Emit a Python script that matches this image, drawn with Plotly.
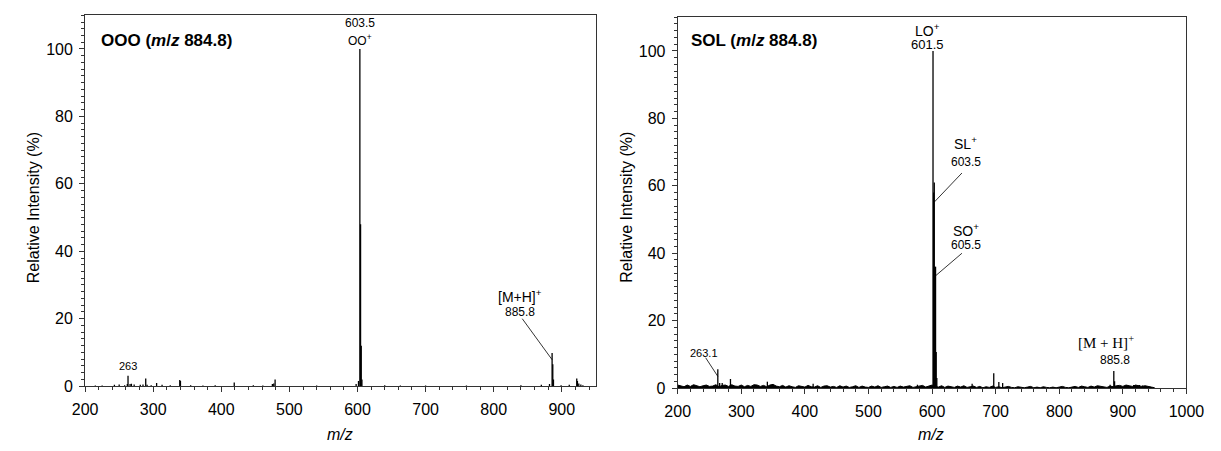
import plotly.graph_objects as go

# ---- OOO product-ion spectrum (precursor m/z 884.8) ----
ooo_mz = [215, 225, 243, 250, 258, 262, 263, 266, 268, 272, 281, 285, 289, 291,
          297, 305, 313, 325, 339, 340, 355, 373, 391, 419, 447, 461, 475, 477,
          479, 540, 598, 601.5, 603.5, 604.5, 605.5, 606.5, 640, 663, 700, 760,
          840, 870, 882, 885.8, 886.8, 887.8, 899, 911, 922, 923, 925, 928, 931]
ooo_int = [0.2, 0.2, 0.4, 0.5, 0.3, 0.6, 3.1, 0.6, 0.7, 0.5, 0.4, 0.5, 2.3, 0.4,
           0.3, 0.9, 0.4, 0.3, 1.8, 1.5, 0.3, 0.2, 0.3, 1.1, 0.3, 0.2, 0.6, 0.8,
           2.0, 0.2, 0.6, 1.5, 100.0, 48.0, 12.0, 2.0, 0.3, 0.2, 0.2, 0.2,
           0.3, 0.4, 0.6, 9.8, 6.5, 2.0, 0.3, 0.4, 2.3, 1.5, 0.8, 0.5, 0.3]

# ---- SOL product-ion spectrum (precursor m/z 884.8) ----
sol_mz = [263.1, 266, 270, 283, 341, 413, 577, 598, 601.5, 602.5, 603.5, 604.5,
          605.5, 606.5, 607.5, 663, 697, 705, 711, 880, 885.8, 887, 917, 926, 931]
sol_int = [5.6, 1.5, 1.5, 2.7, 1.9, 1.3, 1.0, 0.8, 100.0, 58.0, 61.0, 36.0,
           36.0, 10.7, 3.0, 1.3, 4.4, 1.8, 1.5, 1.0, 5.1, 2.0, 0.9, 0.9, 0.8]

# chemical noise floor of the SOL trace, sampled every 5 m/z from 200
sol_noise = [0.9, 0.6, 0.4, 0.9, 0.5, 1.0, 0.6, 0.4, 0.7, 0.9, 0.5, 0.6, 1.0, 0.4,
             0.8, 0.9, 0.5, 1.0, 0.6, 0.5, 0.9, 0.4, 0.8, 0.5, 1.0, 0.9, 0.5, 0.8,
             0.4, 0.9, 1.1,
             0.6, 0.4, 0.8, 0.3, 0.7, 0.4, 0.2, 0.7, 0.5, 0.3, 0.8, 0.4, 0.3, 0.7,
             0.2, 0.6, 0.7, 0.3, 0.5, 0.2, 0.7, 0.3, 0.6, 0.2, 0.4, 0.7, 0.2, 0.6,
             0.3, 0.2, 0.6, 0.3, 0.7, 0.2, 0.4, 0.6, 0.2, 0.5, 0.2, 0.6, 0.3, 0.4,
             0.7, 0.2, 0.4, 0.6, 0.8, 0.3, 0.7, 0.9,
             0.5, 0.3, 0.7, 0.2, 0.6, 0.3, 0.2, 0.6, 0.3, 0.7, 0.2, 0.4, 0.6, 0.2,
             0.5, 0.1, 0.4, 0.2, 0.6, 0.2, 0.4, 0.1, 0.3, 0.5, 0.2, 0.1, 0.4, 0.2,
             0.1, 0.3, 0.5, 0.1, 0.3, 0.1, 0.4, 0.2, 0.1, 0.3, 0.1, 0.3, 0.5, 0.2,
             0.1, 0.3, 0.5, 0.2, 0.6, 0.4, 0.2, 0.6, 0.3, 0.7, 0.5, 0.3, 0.2, 0.6,
             0.4, 0.7, 0.8, 0.5, 0.9, 0.7, 0.5, 0.9, 0.6, 0.5, 0.7, 0.4, 0.3, 0.1]
sol_noise_mz = [200 + 5 * i for i in range(len(sol_noise))]

x_ticks = [200, 300, 400, 500, 600, 700, 800, 900, 1000]
y_ticks = [0, 20, 40, 60, 80, 100]

SANS = "Liberation Sans, Arial, sans-serif"
SERIF = "Liberation Serif, Times New Roman, serif"
INK = "#000000"
FRAME = "#333333"


def sticks(mz, inten):
    xs, ys = [], []
    for m, v in zip(mz, inten):
        xs += [m, m, None]
        ys += [0, v, None]
    return xs, ys


fig = go.Figure()

xs, ys = sticks(ooo_mz, ooo_int)
fig.add_trace(go.Scatter(x=xs, y=ys, mode="lines", line=dict(color=INK, width=1.3),
                         xaxis="x", yaxis="y", hoverinfo="skip"))

fig.add_trace(go.Scatter(x=sol_noise_mz, y=sol_noise, mode="lines", fill="tozeroy",
                         fillcolor=INK, line=dict(color=INK, width=1),
                         xaxis="x2", yaxis="y2", hoverinfo="skip"))
xs, ys = sticks(sol_mz, sol_int)
fig.add_trace(go.Scatter(x=xs, y=ys, mode="lines", line=dict(color=INK, width=1.3),
                         xaxis="x2", yaxis="y2", hoverinfo="skip"))

ooo = dict(zip(ooo_mz, ooo_int))
sol = dict(zip(sol_mz, sol_int))

ann = []


def label(text, x, y, ax="x", size=12, font=SANS, xanchor="center"):
    ann.append(dict(text=text, x=x, y=y, xref=ax, yref="y" if ax == "x" else "y2",
                    showarrow=False, xanchor=xanchor, yanchor="middle",
                    font=dict(family=font, size=size, color=INK)))


def leader(x0, y0, x1, y1, ax="x"):
    fig.add_shape(type="line", x0=x0, y0=y0, x1=x1, y1=y1, xref=ax,
                  yref="y" if ax == "x" else "y2", line=dict(color=INK, width=0.8))


# panel titles
label("<b>OOO (<i>m</i>/<i>z</i> 884.8)</b>", 220, 102.5, "x", 17, xanchor="left")
label("<b>SOL (<i>m</i>/<i>z</i> 884.8)</b>", 218, 103, "x2", 17, xanchor="left")

# OOO annotations
label("603.5", 603.5, 107.8, "x", 12)
label("OO<sup>+</sup>", 603.5, 102.6, "x", 12)
label("263", 263, ooo[263] + 2.8, "x", 11)
label("[M+H]<sup>+</sup>", 838, 26.8, "x", 14)
label("885.8", 838, 21.9, "x", 12)
leader(842, 20.0, 885.8, ooo[885.8] * 0.8, "x")

# SOL annotations
label("LO<sup>+</sup>", 593, 106.3, "x2", 14)
label("601.5", 593, 101.8, "x2", 13)
label("SL<sup>+</sup>", 653, 72.6, "x2", 14)
label("603.5", 653, 67.0, "x2", 12)
leader(647, 63.8, 603.6, 55.2, "x2")
label("SO<sup>+</sup>", 653, 46.8, "x2", 14)
label("605.5", 653, 42.4, "x2", 12)
leader(647, 40.0, 604.8, 33.2, "x2")
label("263.1", 242, 10.5, "x2", 11)
leader(244, 9.0, 263.1, sol[263.1] * 0.62, "x2")
label("[M + H]<sup>+</sup>", 874, 13.7, "x2", 15, SERIF)
label("885.8", 888, 8.4, "x2", 12)

# axis titles drawn as paper annotations
for xc in (21, 630):
    ann.append(dict(text="Relative Intensity (%)", x=xc / 1221, y=0.53, xref="paper",
                    yref="paper", textangle=-90, showarrow=False, xanchor="center",
                    yanchor="middle", font=dict(family=SANS, size=16, color=INK)))
for xc in (336, 942):
    ann.append(dict(text="<i>m/z</i>", x=xc / 1221, y=1 - 443 / 451, xref="paper",
                    yref="paper", showarrow=False, xanchor="center", yanchor="middle",
                    font=dict(family=SANS, size=16, color=INK)))

axis_common = dict(showline=True, mirror=True, linecolor=FRAME, linewidth=1,
                   showgrid=False, zeroline=False, ticks="outside", ticklen=5,
                   tickcolor=FRAME, ticklabeloverflow="allow",
                   tickfont=dict(family=SANS, size=16, color=INK))

fig.update_layout(
    width=1221, height=451, margin=dict(l=0, r=0, t=0, b=0),
    paper_bgcolor="white", plot_bgcolor="white", showlegend=False,
    annotations=ann,
    xaxis=dict(domain=[74 / 1221, 598 / 1221], range=[200, 950], tickvals=x_ticks,
               minor=dict(dtick=20, ticks="outside", ticklen=3, tickcolor=FRAME),
               ticklabelstandoff=4, anchor="y", **axis_common),
    yaxis=dict(domain=[1 - 394 / 451, 1 - 15.6 / 451], range=[0, 110], tickvals=y_ticks,
               minor=dict(dtick=2, ticks="outside", ticklen=3, tickcolor=FRAME),
               ticklabelstandoff=3, anchor="x", **axis_common),
    xaxis2=dict(domain=[682 / 1221, 1204 / 1221], range=[200, 1000], tickvals=x_ticks,
                minor=dict(dtick=20, ticks="outside", ticklen=3, tickcolor=FRAME),
                ticklabelstandoff=4, anchor="y2", **axis_common),
    yaxis2=dict(domain=[1 - 396 / 451, 1 - 17.6 / 451], range=[0, 110], tickvals=y_ticks,
                minor=dict(dtick=2, ticks="outside", ticklen=3, tickcolor=FRAME),
                ticklabelstandoff=3, anchor="x2", **axis_common),
)

fig.write_html("out.html")
